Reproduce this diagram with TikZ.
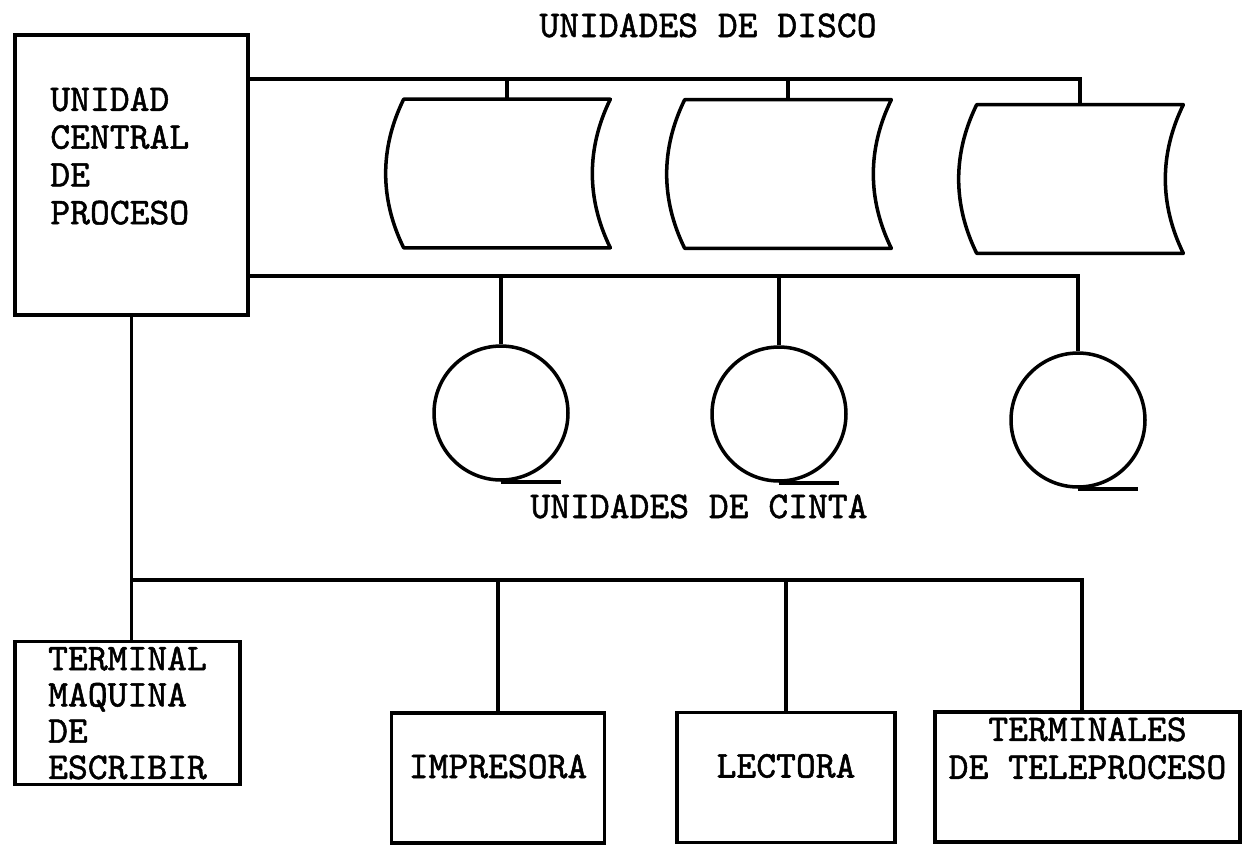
\documentclass[tikz,border=0pt]{standalone}
\usepackage{fontspec}
\usepackage{tikz}
\newfontfamily\letrafam{lmmono10-regular.otf}[FakeBold=1.4]
\newcommand{\letra}{\letrafam\fontsize{21.5pt}{21.5pt}\selectfont}
\tikzset{
  linea/.style={line width=2pt},
  caja/.style={draw, linea, inner sep=0pt, font=\letra},
  discobox/.style={inner sep=0pt, minimum width=4.12cm, minimum height=2.96cm},
  cinta/.style={draw, circle, linea, inner sep=0pt, minimum size=2.68cm},
  salida/.style={caja, text height=1.3cm, text depth=1.3cm, align=center},
  titulo/.style={font=\letra, inner sep=0pt, anchor=base}
}
% disk unit: name, x, y
\newcommand{\disco}[3]{%
  \node[discobox] (#1) at (#2,#3) {};
  \draw[linea, line join=round] (#1.north west) -- (#1.north east)
    .. controls +(-24,49) and +(-24,-49) .. (#1.south east) -- (#1.south west)
    .. controls +(-24,-49) and +(-24,49) .. (#1.north west) -- cycle;}

\begin{document}
\begin{tikzpicture}[x=0.02cm, y=-0.02cm]
  \useasboundingbox (0,0) rectangle (1251,849);

  \node[caja, minimum width=4.66cm, minimum height=5.6cm] (cpu) at (131.5,175) {};
  \node[font=\letra, align=left, inner sep=0pt, anchor=north west] (cputxt) at (50,87)
    {UNIDAD\\CENTRAL\\DE\\PROCESO};

  \node[titulo] (tdisco) at (708,37) {UNIDADES DE DISCO};
  \disco{d1}{507}{173.5}
  \disco{d2}{788}{174}
  \disco{d3}{1080}{179}
  \coordinate (discoE) at (1080,79);
  \draw[linea] (cpu.east |- discoE) -- (discoE) -- (d3.north);
  \draw[linea] (d1.north) -- (d1.north |- discoE);
  \draw[linea] (d2.north) -- (d2.north |- discoE);

  \node[cinta] (c1) at (501,413) {};
  \node[cinta] (c2) at (779,414) {};
  \node[cinta] (c3) at (1078,420) {};
  \foreach \c in {c1,c2,c3}
    \draw[linea] (\c.south) -- ++(60,0);
  \node[titulo] (tcinta) at (699,518) {UNIDADES DE CINTA};
  \coordinate (cintaE) at (1078,276);
  \draw[linea] (cpu.east |- cintaE) -- (cintaE) -- (c3.north);
  \draw[linea] (c1.north) -- (c1.north |- cintaE);
  \draw[linea] (c2.north) -- (c2.north |- cintaE);

  \node[caja, align=left, minimum width=4.5cm, minimum height=2.86cm, font=\letra\linespread{0.96}\selectfont]
    (term) at (127.5,713) {TERMINAL\\MAQUINA\\DE\\ESCRIBIR};
  \node[salida, minimum width=4.26cm] (impr) at (498,778) {IMPRESORA};
  \node[salida, minimum width=4.36cm] (lect) at (786,777.5) {LECTORA};
  \node[caja, align=center, minimum width=6.1cm, text height=1.34cm, text depth=1.26cm, anchor=north]
    (tele) at (1087.5,710) {TERMINALES\\DE TELEPROCESO};

  \coordinate (perifE) at (1082,580);
  \draw[linea] (cpu.south) -- (cpu.south |- term.north);
  \draw[linea] (cpu.south |- perifE) -- (perifE) -- (perifE |- tele.north);
  \draw[linea] (impr.north) -- (impr.north |- perifE);
  \draw[linea] (lect.north) -- (lect.north |- perifE);
\end{tikzpicture}
\end{document}
